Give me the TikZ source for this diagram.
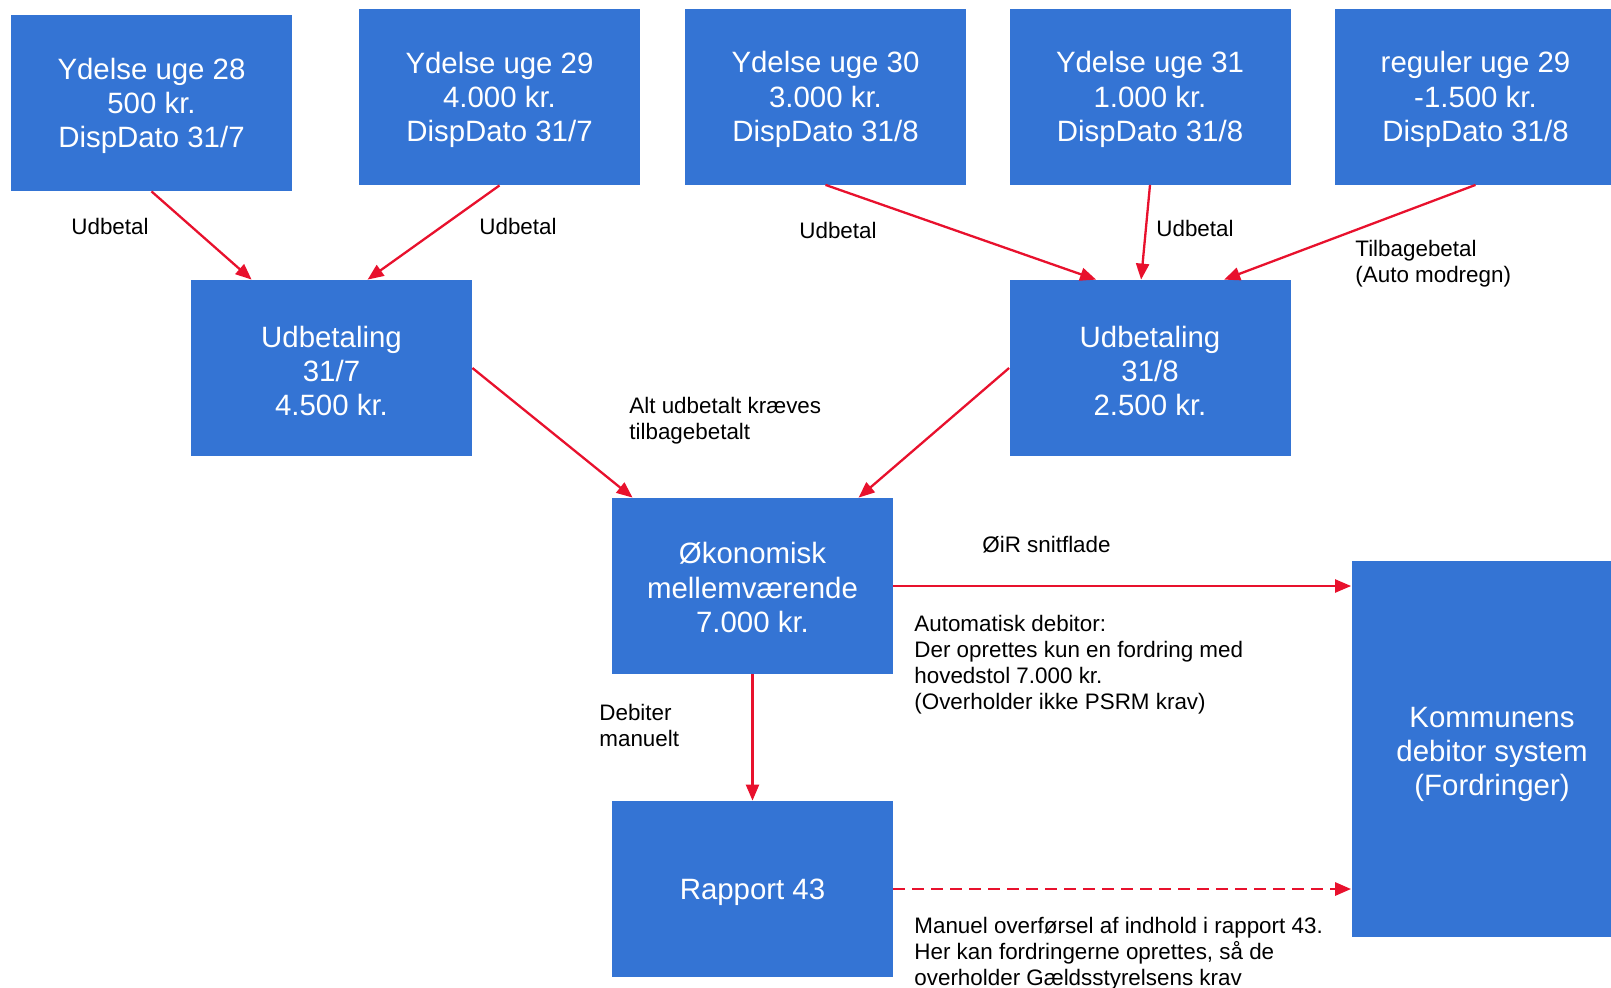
\documentclass[tikz,border=0pt]{standalone}
\usepackage{fontspec}
\setmainfont{Liberation Sans}
\usetikzlibrary{arrows.meta,calc}
\definecolor{boxblue}{RGB}{52,116,212}
\definecolor{flowred}{RGB}{232,17,45}
% extra room above the first line of a box text
\newcommand{\firstline}[1][13.6pt]{\rule{0pt}{#1}}
\begin{document}
\begin{tikzpicture}[x=0.5pt,y=-0.5pt,
  blok/.style={fill=boxblue,draw=none,text=white,align=center,
    minimum width=140.5pt,minimum height=88pt,inner sep=0pt,
    font=\fontsize{14.7pt}{17.2pt}\selectfont},
  flow/.style={draw=flowred,line width=1.15pt,-{Triangle[length=8pt,width=6.5pt]}},
  dflow/.style={flow,line width=1.4pt,dash pattern=on 6pt off 3.5pt},
  note/.style={anchor=west,align=left,inner sep=0pt,
    font=\fontsize{11.2pt}{13pt}\selectfont}]
\useasboundingbox (0,0) rectangle (1611,987);

% top row: payments per week
\node[blok] (b1) at (151.5,103) {\firstline Ydelse uge 28\\500 kr.\\DispDato 31/7};
\node[blok] (b2) at (499.5,97) {\firstline Ydelse uge 29\\4.000 kr.\\DispDato 31/7};
\node[blok] (b3) at (825.5,96.5) {\firstline Ydelse uge 30\\3.000 kr.\\DispDato 31/8};
\node[blok] (b4) at (1150,96.5) {\firstline Ydelse uge 31\\1.000 kr.\\DispDato 31/8};
\node[blok] (b5) at (1475.5,96.5) {\firstline reguler uge 29\\-1.500 kr.\\DispDato 31/8};

% payouts
\node[blok] (u1) at (331.5,368) {\firstline Udbetaling\\31/7\\4.500 kr.};
\node[blok] (u2) at (1150,368) {\firstline Udbetaling\\31/8\\2.500 kr.};

% balance, report and debtor system
\node[blok] (ok) at (752.5,586) {\firstline[12.5pt]Økonomisk\\mellemværende\\7.000 kr.};
\node[blok] (rp) at (752.5,889) {\firstline[14pt]Rapport 43};
\node[blok,minimum height=188pt] (kd) at (1492,749) {\firstline[15.5pt]Kommunens\\debitor system\\(Fordringer)};

% connectors
\draw[flow] (b1.south) -- ($(u1.north west)+(61,0)$);
\draw[flow] (b2.south) -- ($(u1.north west)+(177,0)$);
\draw[flow] (b3.south) -- ($(u2.north west)+(87,0)$);
\draw[flow] (b4.south) -- ($(u2.north west)+(132,0)$);
\draw[flow] (b5.south) -- ($(u2.north west)+(215,0)$);
\draw[flow] (u1.east) -- ($(ok.north west)+(21,0)$);
\draw[flow] (u2.west) -- ($(ok.north west)+(247,0)$);
\draw[flow] (ok.east) -- (ok.east -| kd.west);
\draw[flow] (ok.south) -- (rp.north);
\draw[dflow] (rp.east) -- (rp.east -| kd.west);

% labels
\node[note] (l1) at (71,226) {Udbetal};
\node[note] (l2) at (479,226) {Udbetal};
\node[note] (l3) at (799,230) {Udbetal};
\node[note] (l4) at (1156,228) {Udbetal};
\node[note] (l5) at (1355,263.5) {Tilbagebetal\\(Auto modregn)};
\node[note] (l6) at (629,420.5) {Alt udbetalt kræves\\tilbagebetalt};
\node[note] (l7) at (982,545) {ØiR snitflade};
\node[note] (l8) at (914,665) {Automatisk debitor:\\Der oprettes kun en fordring med\\hovedstol 7.000 kr.\\(Overholder ikke PSRM krav)};
\node[note] (l9) at (599,725) {Debiter\\manuelt};
\node[note] (l10) at (914,954) {Manuel overførsel af indhold i rapport 43.\\Her kan fordringerne oprettes, så de\\overholder Gældsstyrelsens krav};
\end{tikzpicture}
\end{document}
